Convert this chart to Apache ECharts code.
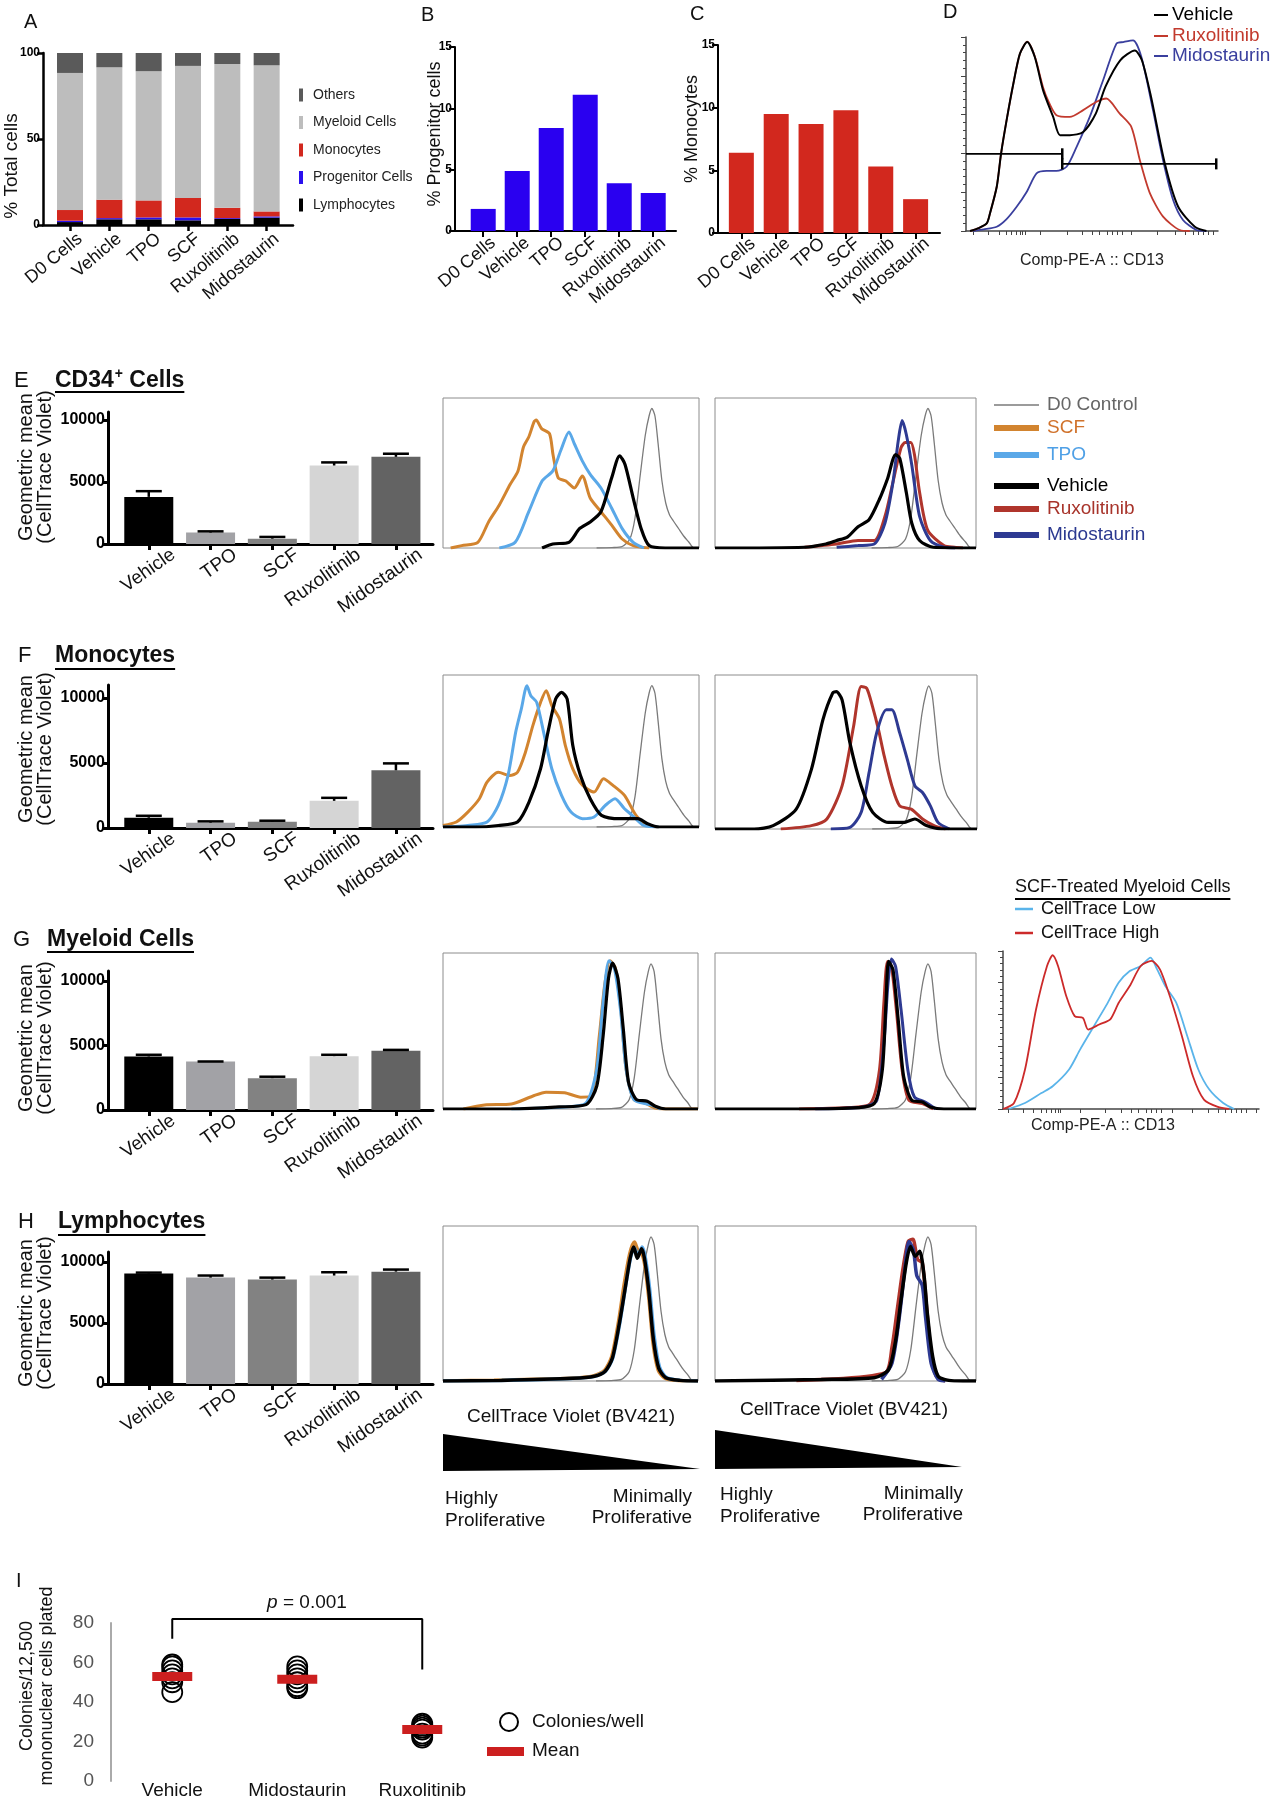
<!DOCTYPE html>
<html><head><meta charset="utf-8">
<script src="https://cdn.jsdelivr.net/npm/echarts@6/dist/echarts.min.js"></script>
<style>html,body{margin:0;padding:0;background:#fff}#c{width:1271px;height:1800px}</style>
</head><body><div id="c"></div>
<script>
const FONT = '"Liberation Sans", Arial, sans-serif';

// ---------- Panel A (stacked % of total cells) ----------
const catsA = ['D0 Cells','Vehicle','TPO','SCF','Ruxolitinib','Midostaurin'];
const lymphA   = [1.7, 3.3, 3.3, 2.7, 3.5, 4.3];
const progA    = [0.8, 0.7, 1.1, 1.7, 0.5, 0.7];
const monoA    = [6.2, 10.7, 9.9, 11.3, 6.0, 2.9];
const myeloidA = [79.7, 77.0, 75.1, 76.8, 83.6, 84.9];
const othersA  = [11.6, 8.3, 10.6, 7.5, 6.4, 7.2];
const ticksA = [0, 50, 100];
// ---------- Panels B, C ----------
const progenitorB = [1.8, 4.9, 8.4, 11.1, 3.9, 3.1];
const monocyteC   = [6.4, 9.5, 8.7, 9.8, 5.3, 2.7];
const ticksBC = [0, 5, 10, 15];
// ---------- Panel D (CD13 histograms, x/y in % of axis) ----------
const dVehicle = [[1.6,0],[5,1.5],[8.2,3.9],[9.5,9],[12.2,22.8],[13.9,39.8],[16.1,57],[18.8,76],[21.4,91.4],[24.3,97.4],[27.3,89.7],[30.6,72.5],[34.6,58.8],[37.3,49.4],[41.2,49.4],[46.5,51],[51.5,60.5],[55.3,74.3],[61.2,88],[67,93],[69.8,88],[73.4,69.3],[78.9,34.8],[84.2,12.5],[90.8,2.2],[95.4,0]];
const dRux = [[1.6,0],[5,1.5],[8.2,3.9],[9.5,9],[12.2,22.8],[13.9,39.8],[16.1,57],[18.8,76],[21.4,91.4],[24.3,97.6],[27.3,90],[30.6,74],[33,66],[35.9,59.7],[41.2,58.8],[46.5,62.3],[51.8,66.6],[55.7,68.3],[61,60.5],[65.6,53.7],[69,36.5],[73,19.4],[78.2,7.4],[84.8,0.5],[88.8,0]];
const dMido = [[2.9,0],[7,0.8],[12.2,2.2],[16,6],[20.1,12.5],[24,20],[28,29.7],[32,31],[35.9,31],[39.9,33.1],[43.9,43.4],[49.1,58.8],[54.4,77.7],[59.7,96.6],[62.4,97.4],[66.3,98.3],[69.6,89.7],[74.2,62.3],[78.2,36.5],[82.2,16],[86.1,5.7],[91.4,0.5],[95.4,0]];
const dGateLow  = [[0,39.8],[38.2,39.8]];
const dGateHigh = [[38.2,34.6],[99.3,34.6]];
const dGateCaps = [[38.2,39.8],[38.2,34.6],[99.3,34.6]];
const dTicksX = [3,9,13,16,18,20,21.5,22.5,23.5,29.6,40,46,50,53,56,58,60,62,65.7,76,83,87,90,92,94,96,98];
// ---------- Panels E-H bar charts ----------
const catsTx = ['Vehicle','TPO','SCF','Ruxolitinib','Midostaurin'];
const barColors = ['#000000','#a2a2a6','#828282','#d5d5d5','#636363'];
const ticksGM = [0, 5000, 10000];
const meanE = [3800, 920, 430, 6330, 7030];
const semE  = [460, 100, 140, 250, 250];
const meanF = [790, 410, 485, 2090, 4440];
const semF  = [150, 100, 75, 230, 530];
const meanG = [4150, 3760, 2470, 4175, 4590];
const semG  = [130, 0, 110, 105, 70];
const meanH = [9050, 8720, 8560, 8890, 9210];
const semH  = [80, 170, 160, 270, 170];
// ---------- CellTrace Violet histograms (x/y in % of box) ----------
const d0Control = [[60,0],[66,0.3],[70,1],[73,6],[75,20],[77,48],[79,75],[80.5,88],[81.6,93],[82.8,88],[84,70],[85.5,45],[87,30],[88.5,22],[90,18],[92,13],[94,8],[96,4],[98,0],[100,0]];
const e1SCF = [[3,0],[7.3,1.6],[13.6,3.8],[17.8,17.4],[22,28.7],[26.2,42.3],[29.3,51.4],[31.4,67.2],[33.5,74],[35.6,84.2],[36.4,85.3],[38.5,79.6],[41.6,76.2],[43,62],[45,46.8],[48,44.6],[51.3,40],[54.4,48],[57.5,33.3],[61.7,24.2],[65.9,15.2],[70,6],[74.3,1.6],[80.5,0]];
const e1TPO = [[22,0],[28.2,3.8],[33.5,24.2],[38.7,44.6],[42.9,51.4],[46,65],[49.2,77.4],[51.3,69.5],[54.4,58.1],[57.5,49.1],[61.7,40],[65.9,26.5],[70,12.9],[74.3,3.8],[78.5,0]];
const e1Veh = [[38.7,0],[42.9,2.7],[49.2,3.8],[53.3,12.9],[57.5,17.4],[61.7,24.2],[65.9,46.8],[69,61.5],[71.1,55.7],[74.3,33.3],[77.4,12.9],[80.5,1.6],[86.8,0],[100,0]];
const e2Rux = [[34.3,0.5],[46.6,2.7],[54.8,5],[61,5],[65.1,21],[68.2,44],[71.3,67],[72.9,70.3],[75,70.3],[76.4,62.5],[78.4,37],[81.5,11.9],[87.7,1.6],[91.8,0.5],[95,0]];
const e2Mido = [[46.6,0.5],[54.8,1.6],[61,2.7],[65.1,16.5],[68.2,44],[70.2,71.4],[71.7,85],[73.3,75.7],[75.4,55.4],[78.4,21],[82.5,5],[87.7,0.5],[92,0]];
const e2Veh = [[0,0],[34.3,0.5],[42.5,2.7],[46.6,5],[50.7,7.3],[54.8,14.2],[59,18.8],[63,32.5],[66.1,46.2],[69.2,62.2],[70.8,59.7],[73.3,37],[75.4,16.5],[78.4,5],[83.6,0.5],[100,0]];
const f1SCF = [[0,1],[5.2,3.3],[9.7,9.8],[14.2,18.6],[17.2,29.5],[21.6,36],[26.1,33.9],[29.1,36],[32.2,49.2],[35.1,66.7],[38.1,82],[40.3,89.7],[42.5,79.9],[45.5,71.1],[47.8,53.6],[50.7,38.3],[54.5,27.4],[59,23],[62.7,31.7],[66.4,27.4],[70.9,20.8],[75.4,7.7],[79.9,1],[84.3,0]];
const f1TPO = [[0,0],[5,0.3],[9.7,1],[17.2,3.3],[21.6,14.2],[25.4,34],[28.4,62.4],[30.6,77.7],[32.8,93],[34.3,86.4],[36.6,82],[39.6,60],[42.5,38.3],[46.3,20.8],[50,9.8],[54.5,5.5],[59,6.6],[63.4,14.2],[67.2,18.6],[70.9,12],[73.9,7.7],[78.4,1],[84.3,0]];
const f1Veh = [[0,0],[12.7,0],[21.6,1],[29.1,3.3],[33.6,16.4],[38.1,38.3],[41,62.4],[44,84.2],[46.3,88.6],[48.5,84.2],[50.7,53.6],[53.7,33.9],[57.5,18.6],[61.9,7.7],[69.4,5.5],[76.1,5.5],[79.9,2.2],[84.3,0],[100,0]];
const f2Rux = [[25.1,0],[36.8,2.2],[42.7,6.5],[48.5,28],[52.9,66.7],[55.8,92.5],[57.9,91.4],[60.1,79.6],[62.4,64.5],[64.6,47.3],[67.5,28],[70.5,15],[74.9,12.9],[79.2,6.5],[83.6,2.2],[88,0]];
const f2Mido = [[44.2,0],[51.5,1],[55.8,10.8],[58.8,36.6],[61.7,62.4],[65.4,77.4],[67.5,77.4],[70.5,62.4],[73.4,45.2],[76.3,28],[79.2,23.7],[82.2,15],[85.1,4.3],[89.5,0]];
const f2Veh = [[0,0],[14.9,0],[22.2,2.2],[31,12.9],[36.8,38.7],[41.2,71],[44.9,88.2],[46.3,89.2],[48.5,83.9],[51.5,55.9],[55.8,28],[60.2,10.8],[66.1,4.3],[71.9,4.3],[76.3,6.5],[80.7,2.2],[86.5,0],[100,0]];
const g1SCF = [[8,0],[16.3,2.6],[26.8,3.2],[35.1,8.2],[40.4,10.8],[47.7,10.4],[54,7.6],[58.2,8.2],[61.3,47],[63.4,79.5],[65.5,95],[67.6,90.3],[69.7,64.4],[71.8,25.5],[74.9,6],[79.1,3.9],[83.3,0.6],[87.4,0],[100,0]];
const g1TPO = [[26.8,0],[47.7,1.3],[56.1,3.9],[60.3,25.5],[62.8,68.7],[65.1,95],[67.2,90.3],[69.7,62.2],[71.8,25.5],[74.9,6],[81.2,2.8],[85.4,0]];
const g1Veh = [[0,0],[26.8,0],[45.6,1.3],[56.1,2.8],[60.3,14.7],[62.8,47],[64.9,83.8],[66.5,93.5],[68.6,83.8],[70.7,51.4],[72.8,16.8],[75.9,6],[80.1,5],[83.3,1.7],[87.4,0],[100,0]];
const g2Rux = [[32.2,0],[50.7,0.9],[59.5,3.4],[63,24.9],[64.7,67.8],[66.1,94.6],[67.6,91.4],[69.6,61.4],[71.7,24.9],[74.3,5.6],[79.5,3.4],[83.6,0]];
const g2Mido = [[38.4,0],[56.9,1.3],[62,5.6],[64.7,42],[66.3,80.7],[67.6,96.1],[69.2,91.4],[71.3,63.5],[73.9,24.9],[76.4,7.7],[80.5,4.5],[84.6,0]];
const g2Veh = [[0,0],[34.3,0],[54.8,0.9],[61,3.4],[64.1,24.9],[65.5,67.8],[66.5,94.6],[68.2,89.3],[70.2,57.1],[72.3,20.6],[75.4,5.6],[79.5,4.5],[82.5,1.3],[87.7,0],[100,0]];
const h1SCF = [[0,0],[20,0.5],[50,1.8],[59,3.3],[63.4,7],[66.2,16],[69,40],[71,62],[73.2,82],[75.1,89.6],[76.5,84],[78,82],[79.2,74],[80.8,52],[82.4,24],[84.4,7],[87,1.8],[92,0.3],[100,0]];
const h1TPO = [[0,0],[22,0.4],[50,1.6],[59.5,3],[63.8,6.5],[66.6,15],[69.4,38],[71.5,60],[73.6,80],[75,86],[76.4,81],[78.1,86.5],[79.3,80],[81,60],[82.8,29],[84.9,9],[87.7,2.2],[93,0.4],[100,0]];
const h1Veh = [[0,0],[23,0.4],[51,1.7],[59.4,3.1],[63.6,6.3],[66.4,14.6],[69.2,37.5],[71.3,58.3],[73.4,79.2],[74.8,86.5],[76.2,79.2],[77.9,85.4],[79,79.2],[80.7,58.3],[82.5,27],[84.6,8.3],[87.4,2.1],[93,0.4],[100,0]];
const h2Rux = [[31.2,0.4],[65.1,5.2],[67.8,21.8],[69.9,47],[72,72.2],[74,90],[75.8,91.4],[77.6,78.5],[79.4,76.4],[81.1,47],[82.8,17.8],[84.8,3.1],[88.2,0]];
const h2Mido = [[63.8,1],[67.8,11.5],[70.6,40.8],[72.6,70.1],[74.3,90],[76,84.7],[77.3,68],[79.4,61.7],[80.7,40.8],[82.8,11.5],[85.5,1],[88.2,0]];
const h2Veh = [[0,0],[40.7,1],[61,2.1],[66.5,7.3],[69.2,26],[71.2,51.3],[73.3,76.4],[74.9,86.8],[76.7,80.5],[78.4,83.7],[80.1,68],[81.4,42.9],[83.4,15.7],[85.5,3.1],[89.6,0.4],[95,0],[100,0]];
// ---------- SCF-treated myeloid CD13 histogram ----------
const g3Low  = [[2.2,0],[8.6,3.8],[15,10.1],[19.4,14.4],[25.8,25],[30.1,37.6],[35.5,52.4],[40.9,67.2],[45.2,80],[49.5,87.3],[53.8,90.5],[57.6,95.8],[60.2,88.4],[63.4,77.8],[67.7,67.2],[72,46.1],[76.3,25],[80.6,12.3],[86,3.8],[90.3,0]];
const g3High = [[0,0],[4.3,3.8],[8.6,25],[12.9,63],[17.2,90.5],[19.4,97.3],[21.5,90.5],[24.7,71.5],[28,58.8],[31.2,57.7],[33.3,50.3],[37.6,53.5],[41.9,56.7],[45.2,67.2],[49.5,77.8],[53.8,90.5],[58,93.7],[61.3,88.4],[65.6,69.3],[69.9,46.1],[74.2,20.7],[78.5,5.9],[83.9,1.3],[88.2,0]];
const g3TicksX = [2,8,12,15,17,19,20.5,21.5,22.5,30,40,46,50,53,56,58,60,62,66,74,80,84,87,89,91,93,95,99];
// ---------- Panel I ----------
const catsI = ['Vehicle','Midostaurin','Ruxolitinib'];
const coloniesVehicle = [59, 58, 56, 54, 52, 50, 45];
const coloniesMido    = [58, 56, 54, 52, 50, 48, 47];
const coloniesRux     = [29, 28, 27, 26, 24, 23, 22];
const meanI = [52.9, 51.5, 26.1];
const ticksI = [0, 20, 40, 60, 80];

// ===================================================================
const grids = [], xAxes = [], yAxes = [], series = [], graphics = [];
function addGrid(l, t, w, h, extra) {
  grids.push(Object.assign({ left: l, top: t, width: w, height: h }, extra || {}));
  return grids.length - 1;
}
function barPanel(o) {
  const g = addGrid(o.left, o.top, o.width, o.height);
  const idx = o.names.map((_, i) => i);
  xAxes.push({ type: 'value', gridIndex: g, min: o.xmin, max: o.xmax,
    axisLine: { show: true, onZero: false, lineStyle: { color: '#000', width: o.lw } },
    axisTick: { show: true, customValues: idx, length: 6, lineStyle: { color: '#000', width: o.lw } },
    axisLabel: { show: true, customValues: idx, formatter: v => o.names[Math.round(v)] || '', rotate: o.rotate,
      fontSize: o.catFont, color: '#111', fontFamily: FONT, margin: o.catMargin, padding: [0, -o.shift, 0, 0] },
    splitLine: { show: false } });
  yAxes.push({ type: 'value', gridIndex: g, min: 0, max: o.ymax,
    axisLine: { show: true, onZero: false, lineStyle: { color: '#000', width: o.lw } },
    axisTick: { show: true, customValues: o.yticks, length: 6, lineStyle: { color: '#000', width: o.lw } },
    axisLabel: { show: true, customValues: o.yticks, formatter: v => String(v), fontSize: o.tickFont, fontWeight: 'bold', color: '#000', fontFamily: FONT, margin: 3 },
    splitLine: { show: false } });
  return g;
}
function histPanel(l, t, w, h) {
  const g = addGrid(l, t, w, h, { show: true, borderColor: '#8c8c8c', borderWidth: 1, backgroundColor: 'rgba(0,0,0,0)' });
  xAxes.push({ type: 'value', gridIndex: g, min: 0, max: 100, show: false });
  yAxes.push({ type: 'value', gridIndex: g, min: 0, max: 100, show: false });
  return g;
}
function flowPanel(l, t, w, h, ticksX, name) {
  const g = addGrid(l, t, w, h);
  xAxes.push({ type: 'value', gridIndex: g, min: 0, max: 100,
    axisLine: { show: true, onZero: false, lineStyle: { color: '#444', width: 1.5 } },
    axisTick: { show: true, customValues: ticksX, length: 4, lineStyle: { color: '#444', width: 1 } },
    axisLabel: { show: false }, splitLine: { show: false },
    name: name || '', nameLocation: 'middle', nameGap: 22,
    nameTextStyle: { fontSize: 16, fontFamily: FONT, color: '#222' } });
  yAxes.push({ type: 'value', gridIndex: g, min: 0, max: 100, interval: 20,
    axisLine: { show: true, onZero: false, lineStyle: { color: '#444', width: 1.5 } },
    axisTick: { show: true, length: 5, lineStyle: { color: '#444', width: 1 } },
    minorTick: { show: true, splitNumber: 5, length: 3, lineStyle: { color: '#444', width: 1 } },
    axisLabel: { show: false }, splitLine: { show: false } });
  return g;
}
function curve(g, data, color, width) {
  series.push({ type: 'line', xAxisIndex: g, yAxisIndex: g, data: data, showSymbol: false, symbol: 'none',
    smooth: 0.25, lineStyle: { color: color, width: width }, silent: true });
}
function bars(g, vals, colors, width) {
  series.push({ type: 'bar', xAxisIndex: g, yAxisIndex: g, barWidth: width, silent: true,
    data: vals.map((v, i) => ({ value: [i, v], itemStyle: { color: colors[i] } })) });
}
function errBars(g, means, sems) {
  series.push({ type: 'custom', xAxisIndex: g, yAxisIndex: g, silent: true, z: 5,
    data: means.map((m, i) => [i, m, m + sems[i]]),
    encode: { x: 0, y: [1, 2] },
    renderItem: function (params, api) {
      const p0 = api.coord([api.value(0), api.value(1)]);
      const p1 = api.coord([api.value(0), api.value(2)]);
      return { type: 'group', children: [
        { type: 'line', shape: { x1: p0[0], y1: p0[1], x2: p1[0], y2: p1[1] }, style: { stroke: '#000', lineWidth: 2.5 } },
        { type: 'line', shape: { x1: p1[0] - 13, y1: p1[1], x2: p1[0] + 13, y2: p1[1] }, style: { stroke: '#000', lineWidth: 2.5 } } ] };
    } });
}

// text helpers
const mctx = document.createElement('canvas').getContext('2d');
function tw(text, size, weight) { mctx.font = (weight || 'normal') + ' ' + size + 'px ' + FONT; return mctx.measureText(text).width; }
function T(x, y, text, o) {
  o = o || {};
  const el = { type: 'text', x: x, y: y, silent: true, rotation: o.rot || 0,
    style: { text: text, fontSize: o.size || 18, fontFamily: FONT, fontWeight: o.weight || 'normal', fontStyle: o.style || 'normal',
      fill: o.color || '#111', align: o.align || 'left', verticalAlign: o.va || 'middle', lineHeight: o.lh } };
  if (o.rich) el.style.rich = o.rich;
  graphics.push(el);
}
function L(x1, y1, x2, y2, color, w) {
  graphics.push({ type: 'line', silent: true, shape: { x1, y1, x2, y2 }, style: { stroke: color, lineWidth: w } });
}

// ---------------- Panel A (stacked via custom rects) ----------------
const gA = barPanel({ left: 43, top: 53, width: 250, height: 172, xmin: -0.687, xmax: 5.67, names: catsA,
  ymax: 100, yticks: ticksA, lw: 2.5, tickFont: 12, catFont: 18, rotate: 40, catMargin: 20, shift: 13 });
const stackA = [['Lymphocytes', lymphA, '#000000'], ['Progenitor Cells', progA, '#2a10ee'], ['Monocytes', monoA, '#d2281e'],
  ['Myeloid Cells', myeloidA, '#bdbdbd'], ['Others', othersA, '#5a5a5a']];
const baseA = catsA.map(() => 0);
stackA.forEach(([n, d, c]) => {
  const rows = d.map((v, i) => { const r = [i, baseA[i], baseA[i] + v]; baseA[i] += v; return r; });
  series.push({ type: 'custom', name: n, xAxisIndex: gA, yAxisIndex: gA, silent: true, itemStyle: { color: c },
    data: rows, encode: { x: 0, y: [1, 2] },
    renderItem: function (params, api) {
      const a = api.coord([api.value(0), api.value(1)]), b = api.coord([api.value(0), api.value(2)]);
      return { type: 'rect', shape: { x: a[0] - 13, y: b[1], width: 26, height: a[1] - b[1] }, style: { fill: c } };
    } });
});
// ---------------- Panel B ----------------
const gB = barPanel({ left: 455, top: 47, width: 221, height: 184, xmin: -0.83, xmax: 5.67, names: catsA,
  ymax: 15, yticks: ticksBC, lw: 2, tickFont: 12, catFont: 18, rotate: 40, catMargin: 18, shift: 13 });
series.push({ type: 'bar', xAxisIndex: gB, yAxisIndex: gB, barWidth: 25, silent: true, itemStyle: { color: '#2a00f0' },
  data: progenitorB.map((v, i) => [i, v]) });
// ---------------- Panel C ----------------
const gC = barPanel({ left: 718, top: 45, width: 222, height: 188, xmin: -0.67, xmax: 5.7, names: catsA,
  ymax: 15, yticks: ticksBC, lw: 2, tickFont: 12, catFont: 18, rotate: 40, catMargin: 18, shift: 15 });
series.push({ type: 'bar', xAxisIndex: gC, yAxisIndex: gC, barWidth: 25, silent: true, itemStyle: { color: '#d2281e' },
  data: monocyteC.map((v, i) => [i, v]) });
// ---------------- Panel D ----------------
const gD = flowPanel(966, 37, 252, 194, dTicksX, 'Comp-PE-A :: CD13');
curve(gD, dMido, '#3a3f9e', 1.8);
curve(gD, dRux, '#c23a2e', 1.8);
curve(gD, dVehicle, '#000', 2);
[dGateLow, dGateHigh].forEach(d => series.push({ type: 'line', xAxisIndex: gD, yAxisIndex: gD, data: d, symbol: 'none',
  lineStyle: { color: '#000', width: 1.8 }, silent: true, z: 6 }));
series.push({ type: 'scatter', xAxisIndex: gD, yAxisIndex: gD, data: dGateCaps, symbol: 'rect', symbolSize: [2.5, 11],
  itemStyle: { color: '#000', opacity: 1 }, silent: true, z: 6 });

// ---------------- E-H bar charts ----------------
const barRows = [
  { top: 412, h: 132, ymax: 10645, mean: meanE, sem: semE },
  { top: 685, h: 143, ymax: 11000, mean: meanF, sem: semF },
  { top: 971, h: 139, ymax: 10775, mean: meanG, sem: semG },
  { top: 1252, h: 132, ymax: 10820, mean: meanH, sem: semH } ];
barRows.forEach(r => {
  const g = barPanel({ left: 108, top: r.top, width: 325, height: r.h, xmin: -0.66, xmax: 4.6, names: catsTx,
    ymax: r.ymax, yticks: ticksGM, lw: 3, tickFont: 16, catFont: 19, rotate: 35, catMargin: 26, shift: 30 });
  bars(g, r.mean, barColors, 49);
  errBars(g, r.mean, r.sem);
});

// ---------------- CellTrace histograms ----------------
const cOr = '#d2842f', cTpo = '#5aa8e8', cRux = '#b0352c', cMido = '#2e3a92', cD0 = '#7a7a7a';
let g;
g = histPanel(443, 398, 256, 150); curve(g, d0Control, cD0, 1.3); curve(g, e1SCF, cOr, 3); curve(g, e1TPO, cTpo, 3); curve(g, e1Veh, '#000', 3.2);
g = histPanel(715, 398, 261, 150); curve(g, d0Control, cD0, 1.3); curve(g, e2Rux, cRux, 3); curve(g, e2Mido, cMido, 3); curve(g, e2Veh, '#000', 3.2);
g = histPanel(443, 675, 256, 152); curve(g, d0Control, cD0, 1.3); curve(g, f1SCF, cOr, 3); curve(g, f1TPO, cTpo, 3); curve(g, f1Veh, '#000', 3.2);
g = histPanel(715, 675, 262, 154); curve(g, d0Control, cD0, 1.3); curve(g, f2Rux, cRux, 3); curve(g, f2Mido, cMido, 3); curve(g, f2Veh, '#000', 3.2);
g = histPanel(443, 953, 255, 156); curve(g, d0Control, cD0, 1.3); curve(g, g1SCF, cOr, 3); curve(g, g1TPO, cTpo, 3); curve(g, g1Veh, '#000', 3.2);
g = histPanel(715, 953, 261, 156); curve(g, d0Control, cD0, 1.3); curve(g, g2Rux, cRux, 3); curve(g, g2Mido, cMido, 3); curve(g, g2Veh, '#000', 3.2);
g = histPanel(443, 1226, 255, 155); curve(g, d0Control, cD0, 1.3); curve(g, h1SCF, cOr, 3.5); curve(g, h1TPO, cTpo, 3.5); curve(g, h1Veh, '#000', 3.5);
g = histPanel(715, 1226, 261, 155); curve(g, d0Control, cD0, 1.3); curve(g, h2Rux, cRux, 3.5); curve(g, h2Mido, cMido, 3.5); curve(g, h2Veh, '#000', 3.5);
// SCF-treated myeloid CD13
g = flowPanel(1003, 951, 256, 158, g3TicksX, '');
curve(g, g3Low, '#5ab4ea', 1.8);
curve(g, g3High, '#cc2a2a', 1.8);

// ---------------- Panel I ----------------
const gI = addGrid(111, 1623, 400, 160);
xAxes.push({ type: 'value', gridIndex: gI, min: -0.49, max: 2.71,
  axisLine: { show: false }, axisTick: { show: false }, splitLine: { show: false },
  axisLabel: { show: true, customValues: [0, 1, 2], formatter: v => catsI[Math.round(v)] || '', fontSize: 19, color: '#111', fontFamily: FONT, margin: 0 } });
yAxes.push({ type: 'value', gridIndex: gI, min: 0, max: 80, interval: 20,
  axisLine: { show: true, onZero: false, lineStyle: { color: '#aaa', width: 2 } }, axisTick: { show: false }, splitLine: { show: false },
  axisLabel: { show: true, fontSize: 19, color: '#555', fontFamily: FONT, margin: 17, customValues: ticksI } });
series.push({ type: 'scatter', xAxisIndex: gI, yAxisIndex: gI, symbol: 'circle', symbolSize: 20, silent: true,
  itemStyle: { color: 'rgba(0,0,0,0)', borderColor: '#000', borderWidth: 1.8, opacity: 1 },
  data: [].concat(coloniesVehicle.map(v => [0, v]), coloniesMido.map(v => [1, v]), coloniesRux.map(v => [2, v])) });
series.push({ type: 'scatter', xAxisIndex: gI, yAxisIndex: gI, symbol: 'rect', symbolSize: [40, 9], silent: true, z: 5,
  itemStyle: { color: '#cc1f1f', opacity: 1 }, data: meanI.map((m, i) => [i, m]) });
series.push({ type: 'line', xAxisIndex: gI, yAxisIndex: gI, clip: false, symbol: 'none', silent: true,
  lineStyle: { color: '#000', width: 2 }, data: [[0, 72], [0, 82], [2, 82], [2, 56.5]] });

// ---------------- Texts & decorations ----------------
T(24, 22, 'A', { size: 20 }); T(421, 15, 'B', { size: 20 }); T(690, 14, 'C', { size: 20 }); T(943, 12, 'D', { size: 20 });
T(12, 166, '% Total cells', { size: 19, rot: Math.PI / 2, align: 'center' });
T(435, 134, '% Progenitor cells', { size: 18, rot: Math.PI / 2, align: 'center' });
T(692, 129, '% Monocytes', { size: 18, rot: Math.PI / 2, align: 'center' });
// D legend
[['Vehicle', '#000', 15], ['Ruxolitinib', '#c23a2e', 36], ['Midostaurin', '#3a3f9e', 56]].forEach(([n, c, y]) => {
  L(1154, y, 1168, y, c, 2); T(1172, y, n, { size: 19, color: c });
});
// E-H row titles
const rowTitles = [['E', 14, 381, 55, 'CD34', 392], ['F', 18, 656, 55, 'Monocytes', 669], ['G', 13, 940, 47, 'Myeloid Cells', 952], ['H', 18, 1222, 58, 'Lymphocytes', 1235]];
rowTitles.forEach(([L1, lx, y, tx, t, uy]) => {
  T(lx, y, L1, { size: 22 });
  T(tx, y, t, { size: 23, weight: 'bold' });
  let w = tw(t, 23, 'bold');
  if (L1 === 'E') {
    T(tx + w + 1, y - 7, '+', { size: 14, weight: 'bold' });
    w += tw('+', 14, 'bold') + 1;
    T(tx + w, y, ' Cells', { size: 23, weight: 'bold' });
    w += tw(' Cells', 23, 'bold');
  }
  L(tx, uy, tx + w, uy, '#000', 2);
});
[467, 749, 1038, 1313].forEach(cy => T(36, cy, 'Geometric mean\n(CellTrace Violet)', { size: 20, rot: Math.PI / 2, align: 'center', lh: 19 }));
// E legend
[['D0 Control', '#7a7a7a', '#666', 1.5, 405], ['SCF', cOr, '#d0722b', 6, 428], ['TPO', cTpo, '#4fa0e6', 6, 455],
 ['Vehicle', '#000', '#000', 6, 486], ['Ruxolitinib', cRux, '#a8342b', 6, 509], ['Midostaurin', cMido, '#2b3990', 6, 535]].forEach(([n, lc, tc, w, y]) => {
  L(994, y, 1039, y, lc, w); T(1047, y, n, { size: 19, color: tc });
});
// SCF-treated legend
T(1015, 887, 'SCF-Treated Myeloid Cells', { size: 18 });
L(1015, 899, 1015 + tw('SCF-Treated Myeloid Cells', 18), 899, '#000', 2);
L(1015, 909, 1033, 909, '#5ab4ea', 2.5); T(1041, 909, 'CellTrace Low', { size: 18 });
L(1015, 933, 1033, 933, '#cc2a2a', 2.5); T(1041, 933, 'CellTrace High', { size: 18 });
T(1103, 1126, 'Comp-PE-A :: CD13', { size: 16, align: 'center', color: '#222' });
// H row bottom annotations
T(571, 1417, 'CellTrace Violet (BV421)', { size: 19, align: 'center' });
T(844, 1410, 'CellTrace Violet (BV421)', { size: 19, align: 'center' });
graphics.push({ type: 'polygon', silent: true, shape: { points: [[443, 1434], [443, 1471], [700, 1469]] }, style: { fill: '#000' } });
graphics.push({ type: 'polygon', silent: true, shape: { points: [[715, 1430], [715, 1469], [962, 1467]] }, style: { fill: '#000' } });
T(445, 1499, 'Highly', { size: 19 }); T(445, 1521, 'Proliferative', { size: 19 });
T(692, 1497, 'Minimally', { size: 19, align: 'right' }); T(692, 1518, 'Proliferative', { size: 19, align: 'right' });
T(720, 1495, 'Highly', { size: 19 }); T(720, 1517, 'Proliferative', { size: 19 });
T(963, 1494, 'Minimally', { size: 19, align: 'right' }); T(963, 1515, 'Proliferative', { size: 19, align: 'right' });
// Panel I texts
T(16, 1581, 'I', { size: 20 });
T(37, 1686, 'Colonies/12,500\nmononuclear cells plated', { size: 18, rot: Math.PI / 2, align: 'center', lh: 20 });
T(307, 1603, '{i|p} = 0.001', { size: 19, align: 'center', rich: { i: { fontStyle: 'italic', fontSize: 19, fontFamily: FONT, fill: '#111' } } });
graphics.push({ type: 'circle', silent: true, shape: { cx: 509, cy: 1722, r: 9 }, style: { fill: 'none', stroke: '#000', lineWidth: 2 } });
T(532, 1722, 'Colonies/well', { size: 19 });
graphics.push({ type: 'rect', silent: true, shape: { x: 487, y: 1747, width: 37, height: 9 }, style: { fill: '#cc1f1f' } });
T(532, 1751, 'Mean', { size: 19 });

const chart = echarts.init(document.getElementById('c'), null, { renderer: 'canvas', width: 1271, height: 1800 });
chart.setOption({
  animation: false,
  backgroundColor: '#fff',
  textStyle: { fontFamily: FONT },
  grid: grids, xAxis: xAxes, yAxis: yAxes, series: series,
  legend: [{ data: ['Others', 'Myeloid Cells', 'Monocytes', 'Progenitor Cells', 'Lymphocytes'], orient: 'vertical',
    left: 294, top: 83, itemWidth: 4, itemHeight: 13, itemGap: 13.5, icon: 'rect', selectedMode: false,
    textStyle: { fontSize: 14, fontFamily: FONT, color: '#222', padding: [0, 0, 0, 5] } }],
  graphic: graphics
});
</script></body></html>
